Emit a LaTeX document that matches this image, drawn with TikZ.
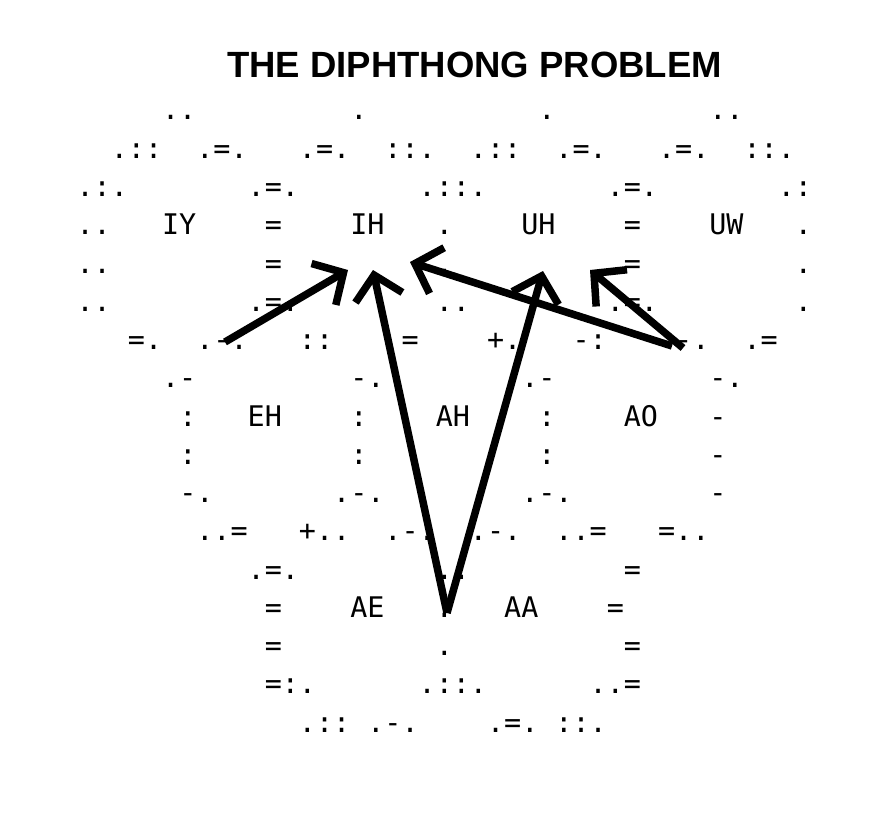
\documentclass[tikz,border=0pt]{standalone}
\usepackage{fontspec}
\setsansfont{Liberation Sans}
\newfontfamily\asciifont{DejaVu Sans Mono}
\usepackage{tikz}
\usetikzlibrary{arrows.meta}

% one row of the ascii art: row number, list of column/text cells
\newcommand\asrow[2]{%
  \foreach \c/\t in {#2}
    \node[asc] at ({76.45+17.1*\c},{81.75+38.25*#1}) {\t};}

\begin{document}
\begin{tikzpicture}[x=1pt,y=-1pt,
  asc/.style={font=\asciifont\fontsize{28.4}{30}\selectfont,anchor=base west,inner sep=0pt},
  ttl/.style={font=\sffamily\bfseries\fontsize{36.5}{40}\selectfont,anchor=base,inner sep=0pt},
  arr/.style={line width=7.5pt,-{Straight Barb[length=23pt,width=48pt]}}]
  \useasboundingbox (0,0) rectangle (883,837);
  \node[ttl] (title) at (474.5,78) {THE DIPHTHONG PROBLEM};

  % the lattice
  \asrow{1}{5/..,16/.,27/.,37/..}
  \asrow{2}{2/.::,7/.=.,13/.=.,18/::.,23/.::,28/.=.,34/.=.,39/::.}
  \asrow{3}{0/.:.,10/.=.,20/.::.,31/.=.,41/.:}
  \asrow{4}{0/..,11/=,21/.,32/=,42/.}
  \asrow{5}{0/..,11/=,21/.,32/=,42/.}
  \asrow{6}{0/..,10/.=.,21/..,31/.=.,42/.}
  \asrow{7}{3/=.,7/.-.,13/::,19/=,24/+.,29/-:,35/-.,39/.=}
  \asrow{8}{5/.-,16/-.,26/.-,37/-.}
  \asrow{9}{6/:,16/:,27/:,37/-}
  \asrow{10}{6/:,16/:,27/:,37/-}
  \asrow{11}{6/-.,15/.-.,26/.-.,37/-}
  \asrow{12}{7/..=,13/+..,18/.-.,23/.-.,28/..=,34/=..}
  \asrow{13}{10/.=.,21/..,32/=}
  \asrow{14}{11/=,21/.,31/=}
  \asrow{15}{11/=,21/.,32/=}
  \asrow{16}{11/=:.,20/.::.,30/..=}
  \asrow{17}{13/.::,17/.-.,24/.=.,28/::.}

  % vowels
  \node[asc] (iy) at ({76.45+17.1*5},{81.75+38.25*4}) {IY};
  \node[asc] (ih) at ({76.45+17.1*16},{81.75+38.25*4}) {IH};
  \node[asc] (uh) at ({76.45+17.1*26},{81.75+38.25*4}) {UH};
  \node[asc] (uw) at ({76.45+17.1*37},{81.75+38.25*4}) {UW};
  \node[asc] (eh) at ({76.45+17.1*10},{81.75+38.25*9}) {EH};
  \node[asc] (ah) at ({76.45+17.1*21},{81.75+38.25*9}) {AH};
  \node[asc] (ao) at ({76.45+17.1*32},{81.75+38.25*9}) {AO};
  \node[asc] (ae) at ({76.45+17.1*16},{81.75+38.25*14}) {AE};
  \node[asc] (aa) at ({76.45+17.1*25},{81.75+38.25*14}) {AA};

  % glide ends
  \coordinate (eh-from) at (225,342);
  \coordinate (ae-from) at (447,613);
  \coordinate (ao-from) at (672,346);
  \coordinate (ao-from2) at (683,348);
  \coordinate (ih-l) at (348,270);
  \coordinate (ih-c) at (373,270);
  \coordinate (ih-r) at (410,262);
  \coordinate (uh-c) at (543,271);
  \coordinate (uh-r) at (590,270);

  \draw[arr] (eh-from) -- (ih-l);
  \draw[arr] (ae-from) -- (ih-c);
  \draw[arr] (ae-from) -- (uh-c);
  \draw[arr] (ao-from) -- (ih-r);
  \draw[arr] (ao-from2) -- (uh-r);
\end{tikzpicture}
\end{document}
